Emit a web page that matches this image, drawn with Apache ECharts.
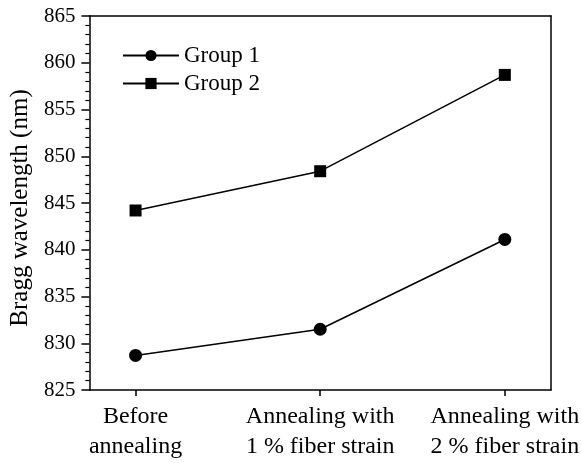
<!DOCTYPE html>
<html>
<head>
<meta charset="utf-8">
<script src="https://cdn.jsdelivr.net/npm/echarts@6/dist/echarts.min.js"></script>
<style>
  html, body { margin: 0; padding: 0; background: #fff; }
  #chart { width: 582px; height: 463px; }
</style>
</head>
<body>
<div id="chart"></div>
<script>
// Annealing conditions along the horizontal axis
var categories = ['Before\nannealing', 'Annealing with\n1 % fiber strain', 'Annealing with\n2 % fiber strain'];
// Bragg wavelength (nm) for each group
var group1 = [828.7, 831.5, 841.1];
var group2 = [844.2, 848.4, 858.7];
// Vertical axis range
var yMin = 825, yMax = 865, yStep = 5;

var FONT = 'Liberation Serif, Times New Roman, serif';

function pairs(vals) {
  return vals.map(function (v, i) { return [i, v]; });
}
var positions = categories.map(function (c, i) { return i; });

var chart = echarts.init(document.getElementById('chart'), null, { renderer: 'canvas' });
chart.setOption({
  animation: false,
  backgroundColor: '#fff',
  textStyle: { fontFamily: FONT, color: '#000' },
  grid: { left: 88, right: 30, top: 16, bottom: 73, containLabel: false },
  legend: {
    orient: 'vertical',
    left: 117,
    top: 39,
    itemWidth: 56,
    itemHeight: 14,
    itemGap: 5,
    textStyle: { fontFamily: FONT, fontSize: 23, lineHeight: 23, color: '#000' },
    data: ['Group 1', 'Group 2']
  },
  xAxis: [{
    type: 'value',
    min: -0.25,
    max: 2.25,
    position: 'bottom',
    axisLine: { show: true, onZero: false, lineStyle: { color: '#000', width: 1.5 } },
    axisTick: { show: true, inside: false, length: 6, customValues: positions, lineStyle: { color: '#000', width: 1.5 } },
    axisLabel: {
      show: true,
      customValues: positions,
      margin: 12,
      fontFamily: FONT,
      fontSize: 24,
      color: '#000',
      lineHeight: 30,
      formatter: function (v) { return categories[Math.round(v)] || ''; }
    },
    splitLine: { show: false }
  }, {
    type: 'value',
    min: -0.25,
    max: 2.25,
    position: 'top',
    axisLine: { show: true, onZero: false, lineStyle: { color: '#000', width: 1.5 } },
    axisTick: { show: false },
    axisLabel: { show: false },
    splitLine: { show: false }
  }],
  yAxis: [{
    type: 'value',
    min: yMin,
    max: yMax,
    interval: yStep,
    position: 'left',
    name: 'Bragg wavelength (nm)',
    nameLocation: 'middle',
    nameGap: 53,
    nameTextStyle: { fontFamily: FONT, fontSize: 25, color: '#000', padding: [0, 10, 0, 0] },
    axisLine: { show: true, onZero: false, lineStyle: { color: '#000', width: 1.5 } },
    axisTick: { show: true, inside: false, length: 8, lineStyle: { color: '#000', width: 1.5 } },
    minorTick: { show: true, splitNumber: 5, length: 4, lineStyle: { color: '#000', width: 1.2 } },
    axisLabel: { fontFamily: FONT, fontSize: 21, color: '#000', margin: 14 },
    splitLine: { show: false },
    minorSplitLine: { show: false }
  }, {
    type: 'value',
    min: yMin,
    max: yMax,
    interval: yStep,
    position: 'right',
    axisLine: { show: true, onZero: false, lineStyle: { color: '#000', width: 1.5 } },
    axisTick: { show: false },
    axisLabel: { show: false },
    splitLine: { show: false }
  }],
  series: [{
    name: 'Group 1',
    type: 'line',
    data: pairs(group1),
    symbol: 'circle',
    symbolSize: 13,
    itemStyle: { color: '#000' },
    lineStyle: { color: '#000', width: 1.5 }
  }, {
    name: 'Group 2',
    type: 'line',
    data: pairs(group2),
    symbol: 'rect',
    symbolSize: 12,
    itemStyle: { color: '#000' },
    lineStyle: { color: '#000', width: 1.5 }
  }]
});
</script>
</body>
</html>
